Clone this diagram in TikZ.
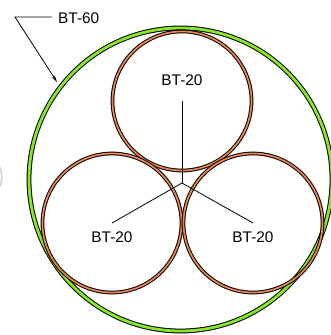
\documentclass[tikz,border=0pt]{standalone}
\usepackage{fontspec}
\setmainfont{Liberation Sans}
\usetikzlibrary{arrows.meta}
\definecolor{lime}{RGB}{136,232,36}
\definecolor{cable}{RGB}{238,134,80}
\begin{document}
\begin{tikzpicture}[x=1pt,y=-1pt,
  inner/.style={circle,draw=black,line width=1pt,double=cable,double distance=1.7pt,minimum size=139pt,inner sep=0pt,outer sep=0pt},
  outer/.style={circle,draw=black,line width=1pt,double=lime,double distance=2.8pt,minimum size=303pt,inner sep=0pt,outer sep=0pt},
  lbl/.style={font=\fontsize{15.4}{18}\selectfont,inner sep=0pt},
  wire/.style={line width=0.8pt,black}]
\useasboundingbox (0,0) rectangle (331,335);
\fill[white] (0,0) rectangle (331,335);
% faint artifact at left edge
\draw[black!18,line width=1.6pt] (-0.5,167) .. controls (2.5,172) and (2.5,182) .. (-0.5,187);
\node[outer] (big) at (180.5,179.5) {};
\node[inner] (top) at (182,101) {};
\node[inner] (left) at (112,223) {};
\node[inner] (right) at (253,223) {};
\coordinate (junc) at (182,183);
\draw[wire] (top.center) -- (junc);
\draw[wire] (junc) -- (left.center);
\draw[wire] (junc) -- (right.center);
\node[lbl] (ltop) at (182,80.5) {BT-20};
\node[lbl] (lleft) at (112,237.5) {BT-20};
\node[lbl] (lright) at (253,237.5) {BT-20};
\node[lbl,anchor=west] (l60) at (58,18.5) {BT-60};
\coordinate (bend) at (15,17);
\coordinate (tip) at (57,82);
\draw[wire,-{Stealth[length=7pt,width=3.2pt]}] (l60.west) ++(-6,-1.5) -- (bend) -- (tip);
\end{tikzpicture}
\end{document}
